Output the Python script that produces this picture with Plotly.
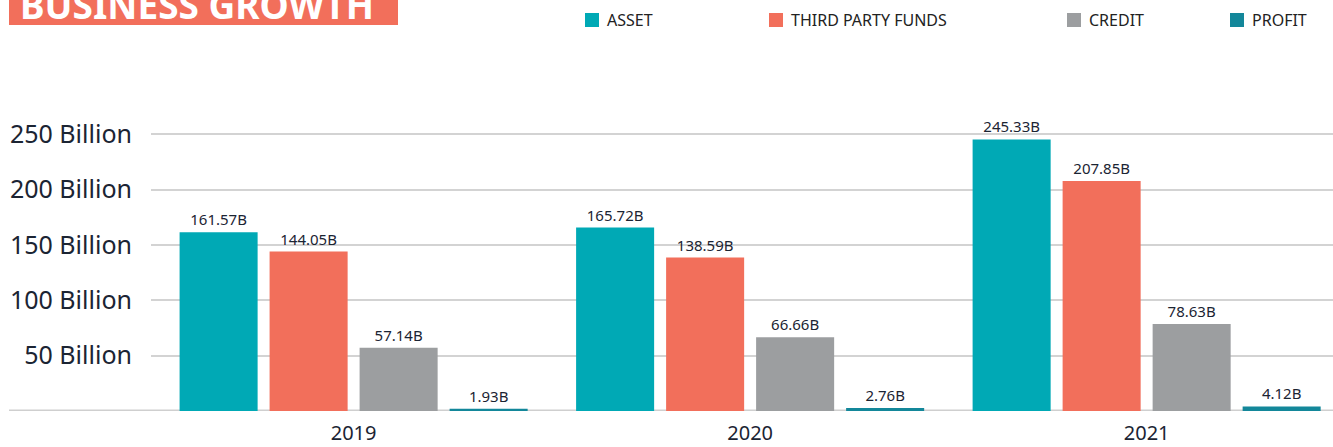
import plotly.graph_objects as go

years = ["2019", "2020", "2021"]
series_names = ["ASSET", "THIRD PARTY FUNDS", "CREDIT", "PROFIT"]
asset = [161.57, 165.72, 245.33]
third_party_funds = [144.05, 138.59, 207.85]
credit = [57.14, 66.66, 78.63]
profit = [1.93, 2.76, 4.12]
series_values = [asset, third_party_funds, credit, profit]
colors = ["#00A9B5", "#F26F5B", "#9C9EA0", "#13879A"]
ytick_vals = [50, 100, 150, 200, 250]
ytick_text = ["50 Billion", "100 Billion", "150 Billion", "200 Billion", "250 Billion"]

W, H = 1333, 447
L, R, T, B = 151, 0, 100, 36
PW, PH = W - L - R, H - T - B

def px(x):
    return (x - L) / PW

def py(y):
    return (H - B - y) / PH

TXT = "#1B2433"
FONT = "Noto Sans"

fig = go.Figure()
for name, vals, col in zip(series_names, series_values, colors):
    fig.add_trace(go.Bar(
        x=years, y=vals, name=name, marker=dict(color=col, line=dict(width=0)),
        texttemplate="%{y:.2f}B", textposition="outside",
        textfont=dict(family=FONT, size=15, color=TXT), cliponaxis=False,
        showlegend=False, hoverinfo="skip",
    ))

shapes = [
    # baseline
    dict(type="line", xref="paper", yref="y", x0=px(9), x1=1, y0=0, y1=0,
         line=dict(color="#CFCFCF", width=3), layer="below"),
    # title box
    dict(type="rect", xref="paper", yref="paper", x0=px(9), x1=px(398), y0=py(25), y1=py(-5),
         fillcolor="#F26F5B", line=dict(width=0)),
]
annotations = [
    dict(text="<b>BUSINESS GROWTH</b>", xref="paper", yref="paper", x=px(197), y=py(5),
         xanchor="center", yanchor="middle", showarrow=False,
         font=dict(family=FONT, size=37, color="white")),
]
legend_sq_x = [585, 769, 1067, 1230]
for name, col, sx in zip(series_names, colors, legend_sq_x):
    shapes.append(dict(type="rect", xref="paper", yref="paper", x0=px(sx), x1=px(sx + 14),
                       y0=py(27), y1=py(13), fillcolor=col, line=dict(width=0)))
    annotations.append(dict(text=name, xref="paper", yref="paper", x=px(sx + 20), y=py(20),
                            xanchor="left", yanchor="middle", showarrow=False,
                            font=dict(family=FONT, size=16, color="#222222")))

fig.update_layout(
    width=W, height=H, margin=dict(l=L, r=R, t=T, b=B, pad=0, autoexpand=False),
    paper_bgcolor="white", plot_bgcolor="white",
    barmode="group", bargap=0.092, bargroupgap=0.133,
    shapes=shapes, annotations=annotations, showlegend=False,
    font=dict(family=FONT, color=TXT),
)
fig.update_xaxes(type="category", range=[-0.511, 2.470], showgrid=False, zeroline=False,
                 showline=False, ticks="", tickfont=dict(family=FONT, size=20, color=TXT),
                 ticklabelstandoff=8, automargin=False)
fig.update_yaxes(range=[0, 281], tickvals=ytick_vals, ticktext=ytick_text,
                 showgrid=True, gridcolor="#D3D3D3", gridwidth=2, zeroline=False,
                 showline=False, ticks="", tickfont=dict(family=FONT, size=25, color=TXT),
                 ticklabelstandoff=18, automargin=False)

fig.write_html("out.html", config={"displayModeBar": False},
               post_script="document.body.style.margin='0';document.body.style.overflow='hidden';")
